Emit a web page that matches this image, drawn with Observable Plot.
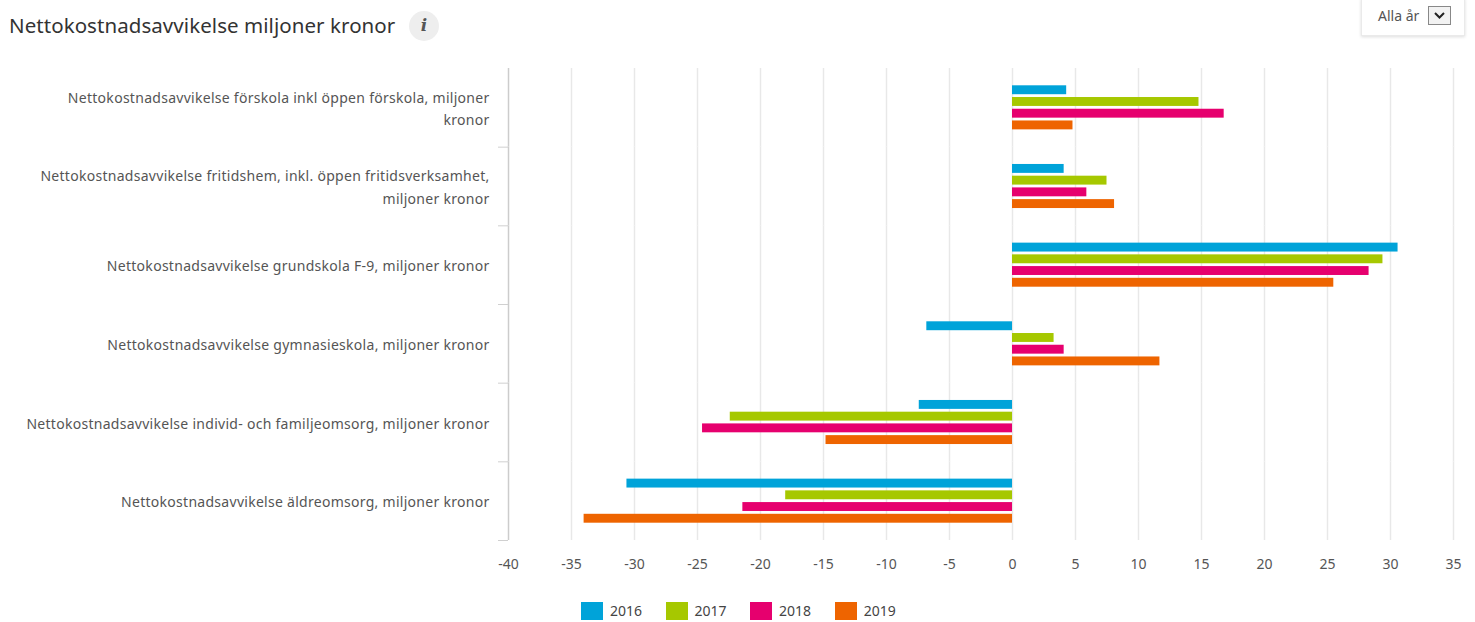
<!DOCTYPE html>
<html><head><meta charset="utf-8">
<script src="https://cdn.jsdelivr.net/npm/d3@7"></script>
<script src="https://cdn.jsdelivr.net/npm/@observablehq/plot@0.6"></script>
<style>
html,body{margin:0;padding:0;background:#fff;width:1475px;height:622px;overflow:hidden}
body{font-family:"Noto Sans",sans-serif;color:#555}
#head{position:relative;height:50px}
#title{position:absolute;left:9px;top:11px;font-size:20.5px;letter-spacing:.06px;line-height:28px;color:#333;white-space:nowrap}
#info{position:absolute;left:409px;top:11px;width:30px;height:30px;border-radius:50%;background:#eeeeee;color:#555;font:italic bold 17px/29px "DejaVu Serif",serif;text-align:center}
#pick{position:absolute;left:1361px;top:-2px;width:104px;height:38px;box-sizing:border-box;border:1px solid #eaeaea;box-shadow:0 1px 3px #ddd;font-size:14px;color:#555}
#pick span{position:absolute;left:16px;top:7px;white-space:nowrap}
#pick b{position:absolute;left:66px;top:7px;width:23px;height:19px;border:1px solid #888;background:#f2f2f2;box-sizing:border-box}
#pick svg{display:block;width:21px;height:17px}
#chart svg{display:block}
#chart g[aria-label="fy-axis tick label"]{letter-spacing:.28px}
#legend{height:27px;padding-left:581px;margin-top:-1px}
#legend span{margin-right:23.5px !important}
</style></head><body>
<div id="head">
  <div id="title">Nettokostnadsavvikelse miljoner kronor</div>
  <div id="info">i</div>
  <div id="pick"><span>Alla år</span><b><svg viewBox="0 0 21 17"><path d="M6 6l4.500 4.500L15 6" fill="none" stroke="#222" stroke-width="2"/></svg></b></div>
</div>
<div id="chart"></div>
<div id="legend"></div>
<script>
const years = ["2016","2017","2018","2019"];
const colors = ["#00a3d9","#a6c800","#e6006e","#ee6400"];
const categories = [
  "Nettokostnadsavvikelse förskola inkl öppen förskola, miljoner\nkronor",
  "Nettokostnadsavvikelse fritidshem, inkl. öppen fritidsverksamhet,\nmiljoner kronor",
  "Nettokostnadsavvikelse grundskola F-9, miljoner kronor",
  "Nettokostnadsavvikelse gymnasieskola, miljoner kronor",
  "Nettokostnadsavvikelse individ- och familjeomsorg, miljoner kronor",
  "Nettokostnadsavvikelse äldreomsorg, miljoner kronor"
];
const v2016 = [4.3, 4.1, 30.6, -6.8, -7.4, -30.6];
const v2017 = [14.8, 7.5, 29.4, 3.3, -22.4, -18.0];
const v2018 = [16.8, 5.9, 28.3, 4.1, -24.6, -21.4];
const v2019 = [4.8, 8.1, 25.5, 11.7, -14.8, -34.0];
const xTicks = [-40,-35,-30,-25,-20,-15,-10,-5,0,5,10,15,20,25,30,35];

const series = [v2016, v2017, v2018, v2019];
const rows = categories.flatMap((c, i) => years.map((y, j) => ({category: c, year: y, value: series[j][i]})));
const font = '"Noto Sans",sans-serif';

const plot = Plot.plot({
  width: 1475, height: 545,
  marginLeft: 508, marginRight: 22, marginTop: 18, marginBottom: 55,
  style: {fontFamily: font, fontSize: "14px", color: "#555", background: "#fff"},
  x: {domain: [-40, 35], axis: null},
  y: {domain: years, axis: null, padding: 0.24, paddingOuter: 0, insetTop: 17.3, insetBottom: 17.3, round: false},
  fy: {domain: categories, padding: 0, axis: null, round: false},
  color: {domain: years, range: colors},
  marks: [
    Plot.gridX(xTicks.filter(d => d > -40), {stroke: "#e8e8e8", strokeOpacity: 1, strokeWidth: 1.5}),
    Plot.ruleX([-40], {stroke: "#cccccc", strokeWidth: 1.5}),
    Plot.axisFy({anchor: "left", tickSize: 0, tickPadding: 19, dy: -1, label: null, lineHeight: 1.62, fontSize: 14, fill: "#555"}),
    Plot.axisFy({anchor: "left", tickSize: 10, dy: 39.33, text: null, label: null, stroke: "#d0d0d0"}),
    Plot.barX(rows, {x: "value", y: "year", fy: "category", fill: "year"}),
    Plot.axisX(xTicks, {anchor: "bottom", tickSize: 0, tickPadding: 19, tickFormat: d => String(d), label: null, fontSize: 14, fill: "#555"})
  ]
});
document.getElementById("chart").append(plot);

const lg = Plot.legend({color: {domain: years, range: colors}, legend: "swatches", swatchWidth: 22, swatchHeight: 18, style: {fontFamily: font, fontSize: "14px", color: "#444", marginBottom: 0}});
document.getElementById("legend").append(lg);
</script>
</body></html>
